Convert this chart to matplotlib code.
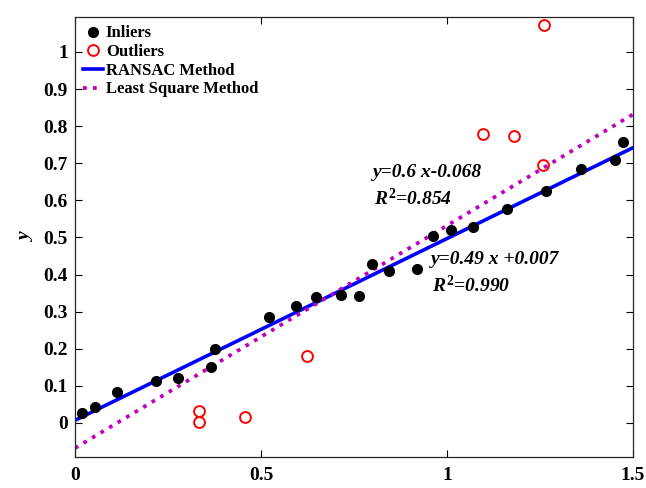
import numpy as np
import matplotlib
matplotlib.use("Agg")
import matplotlib.pyplot as plt

# inlier points
x_in = [0.019, 0.054, 0.112, 0.217, 0.278, 0.365, 0.377, 0.521, 0.594, 0.647,
        0.714, 0.763, 0.797, 0.844, 0.918, 0.961, 1.010, 1.069, 1.162, 1.265,
        1.359, 1.451, 1.473]
y_in = [0.027, 0.042, 0.084, 0.114, 0.120, 0.152, 0.199, 0.285, 0.315, 0.340,
        0.345, 0.343, 0.428, 0.410, 0.415, 0.504, 0.520, 0.527, 0.576, 0.625,
        0.685, 0.709, 0.757]

# outlier points
x_out = [0.334, 0.334, 0.458, 0.623, 1.097, 1.181, 1.257, 1.261]
y_out = [0.032, 0.002, 0.017, 0.179, 0.779, 0.773, 0.696, 1.072]

# fitted lines (slope, intercept)
ransac = (0.49, 0.007)
lsq = (0.6, -0.068)

xticks = [0, 0.5, 1, 1.5]
xticklabels = ['0', '0.5', '1', '1.5']
yticks = [0, 0.1, 0.2, 0.3, 0.4, 0.5, 0.6, 0.7, 0.8, 0.9, 1]
yticklabels = ['0', '0.1', '0.2', '0.3', '0.4', '0.5', '0.6', '0.7', '0.8', '0.9', '1']

plt.rcParams['font.family'] = 'Liberation Serif'
plt.rcParams['font.weight'] = 'bold'
plt.rcParams['mathtext.fontset'] = 'custom'
plt.rcParams['mathtext.it'] = 'Liberation Serif:italic:bold'
plt.rcParams['mathtext.rm'] = 'Liberation Serif:bold'
plt.rcParams['mathtext.bf'] = 'Liberation Serif:bold'

fig = plt.figure(figsize=(6.46, 4.88), dpi=100)
ax = fig.add_axes([0.1161, 0.0635, 0.8639, 0.9015])

xx = np.array([0, 1.5])
ax.plot(x_in, y_in, 'o', color='k', markersize=7, label='Inliers', zorder=3)
ax.plot(x_out, y_out, 'o', mfc='none', mec='r', markersize=7.8, mew=1.4,
        label='Outliers', zorder=3)
ax.plot(xx, ransac[0]*xx + ransac[1], '-', color='b', lw=2.6, label='RANSAC Method')
ax.plot(xx, lsq[0]*xx + lsq[1], ':', color='#c000c0', lw=2.7, label='Least Square Method')

tfont = dict(fontsize=14, fontweight='bold', fontstyle='italic')
ax.text(0.801, 0.676, 'y=0.6 x-0.068', va='center', **tfont)
ax.text(0.804, 0.606, '$\\mathit{R}^{\\mathrm{2}}$=0.854', va='center', **tfont)
ax.text(0.957, 0.441, 'y=0.49 x +0.007', va='center', **tfont)
ax.text(0.960, 0.371, '$\\mathit{R}^{\\mathrm{2}}$=0.990', va='center', **tfont)

ax.set_xlim(0, 1.5)
ax.set_ylim(-0.092, 1.094)
ax.set_xticks(xticks)
ax.set_xticklabels(xticklabels)
ax.set_yticks(yticks)
ax.set_yticklabels(yticklabels)
ax.tick_params(direction='in', top=True, right=True, length=5, width=0.8, labelsize=14)
ax.tick_params(axis='x', pad=7)
ax.tick_params(axis='y', pad=5)
for s in ax.spines.values():
    s.set_linewidth(0.9)
    s.set_color('#262626')

ax.set_xlabel('x', fontsize=14, fontstyle='italic', fontweight='bold')
ax.xaxis.set_label_coords(0.566, -0.075)
ax.set_ylabel('y', fontsize=14, fontstyle='italic', fontweight='bold', labelpad=6)

leg = ax.legend(loc='upper left', frameon=False, fontsize=12, handlelength=1.2,
                handletextpad=0.15, labelspacing=0.16, borderaxespad=0.3,
                borderpad=0.2)

fig.savefig('out.png', dpi=100)
